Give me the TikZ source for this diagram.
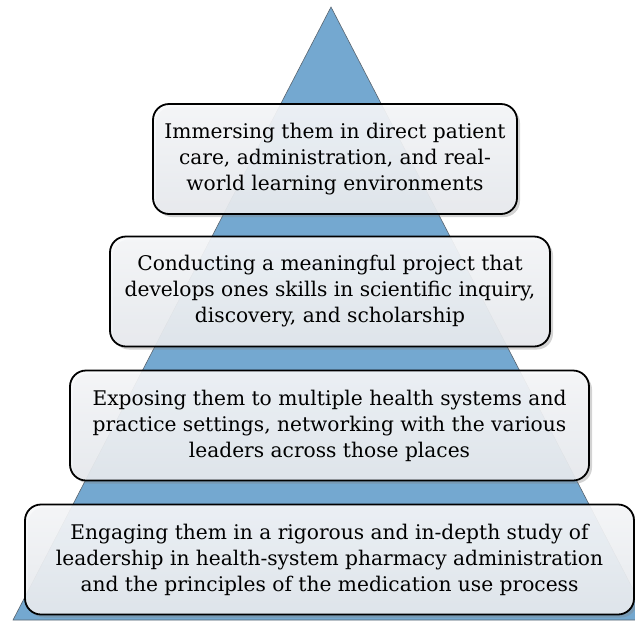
\documentclass[tikz,border=0pt]{standalone}
\usepackage{fontspec}
\setmainfont{DejaVu Serif}
\usepackage{xcolor}
\usetikzlibrary{shadows,positioning}
\definecolor{pyrblue}{RGB}{116,168,208}
\definecolor{pyredge}{RGB}{90,100,110}
\definecolor{boxtop}{RGB}{248,249,251}
\definecolor{boxbot}{RGB}{234,237,241}
\tikzset{
  tierbox/.style={rounded corners=16pt, draw=black, line width=1.8pt,
    top color=boxtop, bottom color=boxbot, fill opacity=0.9, text opacity=1,
    drop shadow={shadow xshift=3pt, shadow yshift=-3pt, opacity=0.35},
    align=center, inner sep=0pt, minimum height=110pt,
    font=\fontsize{20.2}{26}\selectfont}
}

\begin{document}
\begin{tikzpicture}[x=1pt,y=-1pt]
\useasboundingbox (0,0) rectangle (635,622);
\clip (0,0) rectangle (635,622);
% Pyramid
\coordinate (apex) at (331,7);
\coordinate (bl) at (13,620);
\coordinate (br) at (649,620);
\fill[pyrblue, draw=pyredge, line width=0.6pt] (apex) -- (bl) -- (br) -- cycle;

% Tiers
\node[tierbox, minimum width=364pt] (tier1) at (335,159)
  {Immersing them in direct patient\\care, administration, and real-\\world learning environments};
\node[tierbox, minimum width=440pt] (tier2) at (330,291.5)
  {Conducting a meaningful project that\\develops ones skills in scientific inquiry,\\discovery, and scholarship};
\node[tierbox, minimum width=519pt] (tier3) at (329.5,425.5)
  {Exposing them to multiple health systems and\\practice settings, networking with the various\\leaders across those places};
\node[tierbox, minimum width=609pt] (tier4) at (329.5,559.5)
  {Engaging them in a rigorous and in-depth study of\\leadership in health-system pharmacy administration\\and the principles of the medication use process};
\end{tikzpicture}
\end{document}
